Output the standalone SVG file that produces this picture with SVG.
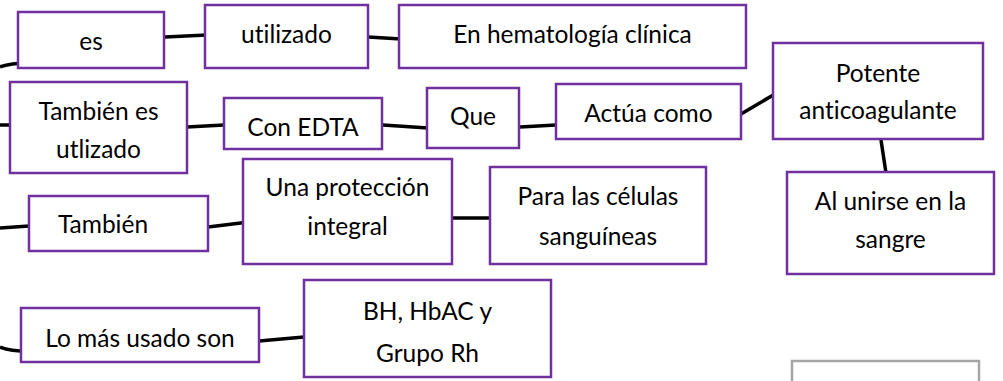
<svg xmlns="http://www.w3.org/2000/svg" width="1003" height="381" viewBox="0 0 1003 381">
<style>
.box{fill:#fff;stroke:#7030A0;stroke-width:2.5}
.gbox{fill:#fff;stroke:#A6A6A6;stroke-width:2.5}
.t{font-family:Lato,"Open Sans",sans-serif;font-size:24.5px;fill:#000;text-anchor:middle;font-variant-ligatures:none;font-feature-settings:"liga" 0}
.c{fill:none;stroke:#000;stroke-width:3.5;stroke-linecap:butt}
</style>
<rect width="1003" height="381" fill="#fff"/>
<g id="connectors">
<path class="c" d="M0,67 Q10,63 29,63"/>
<path class="c" d="M165,37 L207,35"/>
<path class="c" d="M368,37 L401,39"/>
<path class="c" d="M0,125 L14,125"/>
<path class="c" d="M187,127 L224,125"/>
<path class="c" d="M383,125 L428,128"/>
<path class="c" d="M520,127 L556,125"/>
<path class="c" d="M741,114 L775,94"/>
<path class="c" d="M881,140 L886,173"/>
<path class="c" d="M0,228 L29,226"/>
<path class="c" d="M208,227 L249,222"/>
<path class="c" d="M452,218 L494,218"/>
<path class="c" d="M0,347 Q10,351 29,351"/>
<path class="c" d="M259,341 L304,337"/>
</g>
<g id="n-es"><rect class="box" x="18" y="12" width="146" height="56"/><text class="t" x="91" y="50">es</text></g>
<g id="n-utilizado"><rect class="box" x="205" y="5" width="163" height="63"/><text class="t" x="286.5" y="43">utilizado</text></g>
<g id="n-hematologia"><rect class="box" x="399" y="5" width="347" height="63"/><text class="t" x="572.5" y="43">En hematología clínica</text></g>
<g id="n-tambien-es"><rect class="box" x="10" y="82" width="177" height="91"/><text class="t" x="98.5" y="120">También es</text><text class="t" x="98.5" y="158">utlizado</text></g>
<g id="n-edta"><rect class="box" x="224" y="98" width="158" height="51"/><text class="t" x="303" y="136">Con EDTA</text></g>
<g id="n-que"><rect class="box" x="427" y="88" width="92" height="60"/><text class="t" x="473" y="125">Que</text></g>
<g id="n-actua"><rect class="box" x="556" y="84" width="185" height="55"/><text class="t" x="648.5" y="122">Actúa como</text></g>
<g id="n-potente"><rect class="box" x="773" y="43" width="210" height="96"/><text class="t" x="878" y="82">Potente</text><text class="t" x="878" y="119">anticoagulante</text></g>
<g id="n-unirse"><rect class="box" x="787" y="172" width="207" height="102"/><text class="t" x="890.5" y="210">Al unirse en la</text><text class="t" x="890.5" y="248">sangre</text></g>
<g id="n-celulas"><rect class="box" x="490" y="167" width="216" height="97"/><text class="t" x="598" y="205">Para las células</text><text class="t" x="598" y="245">sanguíneas</text></g>
<g id="n-proteccion"><rect class="box" x="243" y="159" width="209" height="105"/><text class="t" x="347.5" y="196">Una protección</text><text class="t" x="347.5" y="235">integral</text></g>
<g id="n-tambien"><rect class="box" x="29" y="196" width="179" height="55"/><text class="t" x="103" y="233">También</text></g>
<g id="n-usado"><rect class="box" x="21" y="308" width="238" height="54"/><text class="t" x="140" y="347">Lo más usado son</text></g>
<g id="n-bh"><rect class="box" x="304" y="280" width="247" height="97"/><text class="t" x="427.5" y="320">BH, HbAC y</text><text class="t" x="427.5" y="362">Grupo Rh</text></g>
<g id="n-gray"><rect class="gbox" x="792" y="361" width="187" height="40"/></g>
</svg>
